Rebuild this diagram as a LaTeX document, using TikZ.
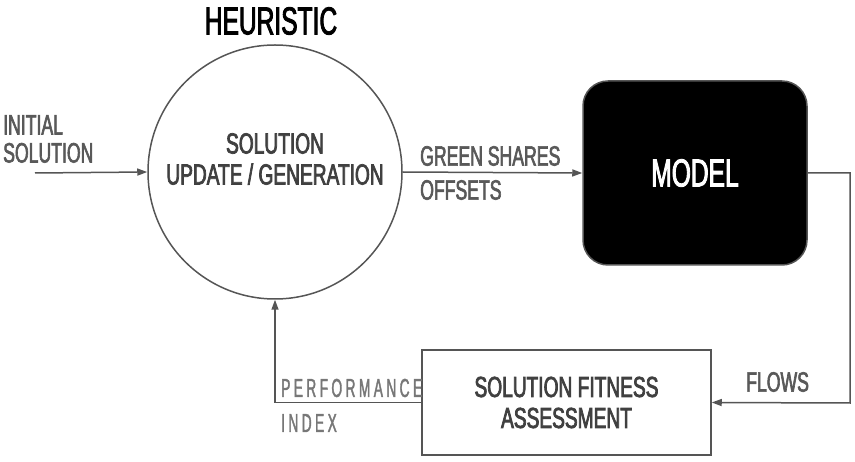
\documentclass[tikz,border=0pt]{standalone}
\usepackage{fontspec}
\setmainfont{Liberation Sans}[FakeStretch=0.63,FakeBold=2.2]
\newfontfamily\widefont{Liberation Sans}[FakeStretch=0.66,FakeBold=2.5]
\newfontfamily\spacedfont{Liberation Sans}[FakeStretch=0.53,FakeBold=1.5,LetterSpace=13]
\usepackage{xcolor}
\usepackage{tikz}
\usetikzlibrary{positioning}
\usetikzlibrary{arrows.meta}
\definecolor{linegray}{HTML}{555555}
\definecolor{textgray}{HTML}{404040}
\definecolor{labelgray}{HTML}{595959}
\definecolor{lightgray}{HTML}{777777}

\begin{document}
\begin{tikzpicture}[x=1pt,y=-1pt,
    flow/.style={draw=linegray,line width=1.5pt,-{Triangle[length=10pt,width=7pt]}},
    label/.style={text=labelgray,font=\fontsize{28}{28}\selectfont,inner sep=0pt,align=left},
    block/.style={draw=linegray,line width=1.5pt,text=textgray,align=center,font=\widefont\fontsize{29}{31}\selectfont}]
  \useasboundingbox (0,0) rectangle (855,462);
  % main blocks
  \node[block,circle,minimum size=254pt,inner sep=0pt] (gen) at (275,172) {};
  \node[block,draw=none] (gentext) at (275,159) {SOLUTION\\UPDATE / GENERATION};
  \node[font=\fontsize{39}{40}\selectfont] (heur) at (271,21) {HEURISTIC};
  \node[block,fill=black,text=white,rounded corners=25pt,minimum width=224pt,minimum height=184pt,font=\fontsize{39}{40}\selectfont] (model) at (695,173) {MODEL};
  \node[block,minimum width=289pt,minimum height=105pt] (assess) at (566.5,402.5) {SOLUTION FITNESS\\ASSESSMENT};
  \coordinate (start) at (35,173);
  \coordinate (edge) at (850,403);
  % connectors
  \draw[flow] (start) -- (gen.west);
  \draw[flow] (gen.east) -- (model.west);
  \draw[flow] (model.east) -| (edge) -- (assess.east);
  \draw[flow] (assess.west) -| (gen.south);
  % labels
  \node[label,anchor=west] (init) at (3,139) {INITIAL\\SOLUTION};
  \node[label,anchor=west] (shares) at (420,156) {GREEN SHARES};
  \node[label,anchor=west] (offsets) at (420,190) {OFFSETS};
  \node[label,anchor=west] (flows) at (746,382) {FLOWS};
  \node[label,text=lightgray,anchor=west,font=\spacedfont\fontsize{26}{26}\selectfont] (perf) at (281,388) {PERFORMANCE};
  \node[label,text=lightgray,anchor=west,font=\spacedfont\fontsize{26}{26}\selectfont] (index) at (281,423) {INDEX};
\end{tikzpicture}
\end{document}
